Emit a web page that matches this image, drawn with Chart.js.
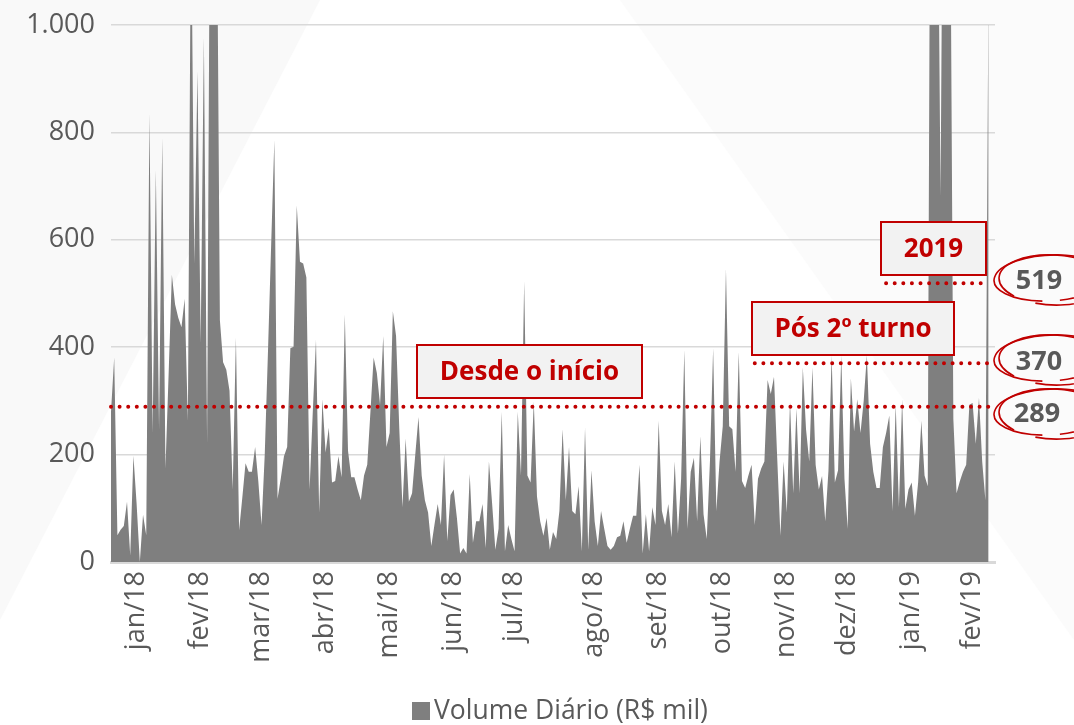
<!DOCTYPE html>
<html>
<head>
<meta charset="utf-8">
<script src="https://cdn.jsdelivr.net/npm/chart.js@4.4.1/dist/chart.umd.min.js"></script>
<style>
html,body{margin:0;padding:0;background:#ffffff;}
#wrap{width:1074px;height:725px;position:relative;overflow:hidden;}
canvas{display:block;}
</style>
</head>
<body>
<div id="wrap"><canvas id="c" width="1074" height="725"></canvas></div>
<script>
// ---------- DATA ----------
const volume = [
  280, 381, 50, 60, 67, 112, 12, 198, 108, 0,
  88, 50, 836, 240, 730, 247, 790, 174, 352, 535,
  480, 455, 437, 490, 263, 1250, 556, 914, 408, 977,
  220, 1400, 1600, 1300, 450, 372, 358, 319, 135, 418,
  59, 120, 184, 168, 168, 214, 150, 69, 200, 390,
  590, 786, 118, 155, 197, 214,
  398, 401, 664, 559, 556, 530, 135, 280, 414, 92,
  303, 204, 250, 148, 151, 197, 158, 461, 207, 158,
  158, 135, 115, 161, 181, 280, 381, 352, 293, 421,
  214, 240, 467, 421, 250, 102, 230, 112, 128, 200,
  270, 161, 115, 92, 30, 70, 108, 69, 200, 39,
  125, 135, 82, 16, 26,
  16, 164, 36, 76, 76, 108, 26, 187, 108, 23,
  62, 280, 20, 69, 43, 20, 280, 161, 523, 161,
  148, 299, 122, 76, 49, 82, 23, 56, 43, 95,
  247, 115, 214, 95, 89, 141, 20, 250, 23, 171,
  76, 30, 95, 62, 30, 23, 30, 46, 49, 76,
  36, 62, 86, 86, 181,
  16, 89, 20, 102, 69, 263, 95, 69, 108, 46,
  187, 53, 155, 395, 62, 168, 194, 76, 234, 89,
  43, 187, 398, 95, 187, 253, 546, 253, 247, 168,
  391, 151, 138, 161, 181, 69, 155, 174, 187, 339,
  313, 345, 194, 49, 187, 92, 299, 128, 286, 128,
  362, 247, 187, 362, 181, 135,
  160, 76, 170, 385, 148, 171, 385, 155, 62, 342,
  243, 303, 240, 300, 385, 220, 168, 138, 138, 214,
  240, 273, 95, 293, 102, 303, 99, 135, 148, 86,
  148, 263, 161, 141, 1700, 1500, 1400, 680, 1600, 1700,
  1300, 266, 128, 150, 168, 181, 293, 296, 220, 306,
  187, 115, 1100
];
// axis slots: one per trading day, plus two empty slots after the last day
const days = Array.from({length: volume.length + 2}, (_, i) => String(i + 1));

const tickIndex  = [8, 28, 47, 67, 87, 107, 126, 151, 171, 191, 211, 230, 250, 269];
const tickLabels = ['jan/18','fev/18','mar/18','abr/18','mai/18','jun/18','jul/18',
                    'ago/18','set/18','out/18','nov/18','dez/18','jan/19','fev/19'];

const yTicks = [0, 200, 400, 600, 800, 1000];

const refLevels = [289, 370, 519];
const refStart  = [0, 201, 242];
const refEnd    = [274, 274, 272];
const refTexts  = ['Desde o início', 'Pós 2º turno', '2019'];
const refBubble = ['289', '370', '519'];

const seriesName = 'Volume Diário (R$ mil)';

// ---------- STYLE ----------
const FONT = "'Open Sans', 'DejaVu Sans', sans-serif";
const GRAY_TXT = '#595959';
const RED = '#C00000';
const AREA = '#7F7F7F';

const refData = refLevels.map((lvl, k) =>
  volume.map((_, i) => (i >= refStart[k] && i <= refEnd[k]) ? lvl : null));

const fmt = v => String(v).replace(/\B(?=(\d{3})+(?!\d))/g, '.');

// annotation layout (pixels)
const boxLayout = [
  {x: 417, y: 345, w: 225, h: 53},
  {x: 752, y: 302, w: 202, h: 53},
  {x: 881, y: 222, w: 105, h: 53}
];
const bubbleLayout = [
  {tx: 1037, ty: 414, cx: 1050, cy: 412},
  {tx: 1039, ty: 362, cx: 1050, cy: 358},
  {tx: 1039, ty: 281, cx: 1050, cy: 278}
];
const legendLayout = {boxX: 412, boxY: 702, box: 18, textX: 434, textY: 711};

const bgPlugin = {
  id: 'bg',
  beforeDraw(chart) {
    const c = chart.ctx;
    c.save();
    c.fillStyle = '#ffffff';
    c.fillRect(0, 0, chart.width, chart.height);
    c.fillStyle = '#f9f9f9';
    c.beginPath(); c.moveTo(0, 0); c.lineTo(320, 0); c.lineTo(0, 620); c.closePath(); c.fill();
    c.fillStyle = '#fbfbfb';
    c.beginPath(); c.moveTo(620, 0); c.lineTo(1074, 0); c.lineTo(1074, 640); c.closePath(); c.fill();
    c.restore();
  }
};

const annoPlugin = {
  id: 'anno',
  afterDatasetsDraw(chart) {
    const c = chart.ctx;
    c.save();
    refTexts.forEach((t, k) => {
      const b = boxLayout[k];
      c.fillStyle = '#F2F2F2';
      c.fillRect(b.x, b.y, b.w, b.h);
      c.strokeStyle = RED;
      c.lineWidth = 2;
      c.strokeRect(b.x, b.y, b.w, b.h);
      c.fillStyle = RED;
      c.font = "bold 26px " + FONT;
      c.textAlign = 'center';
      c.textBaseline = 'middle';
      c.fillText(t, b.x + b.w / 2, b.y + b.h / 2 + 1);
    });
    c.restore();
  },
  afterDraw(chart) {
    const c = chart.ctx;
    c.save();
    refBubble.forEach((t, k) => {
      const p = bubbleLayout[k];
      c.strokeStyle = RED;
      c.lineWidth = 1.6;
      c.beginPath();
      c.ellipse(p.cx, p.cy, 56, 23, -0.05, Math.PI * 0.55, Math.PI * 2.45);
      c.stroke();
      c.beginPath();
      c.ellipse(p.cx + 3, p.cy + 2, 54, 25, 0.04, Math.PI * 0.75, Math.PI * 2.6);
      c.stroke();
      c.fillStyle = GRAY_TXT;
      c.font = "bold 27px " + FONT;
      c.textAlign = 'center';
      c.textBaseline = 'middle';
      c.fillText(t, p.tx, p.ty);
    });
    // legend (single series)
    const L = legendLayout;
    c.fillStyle = AREA;
    c.fillRect(L.boxX, L.boxY, L.box, L.box);
    c.fillStyle = GRAY_TXT;
    c.font = "26.5px " + FONT;
    c.textAlign = 'left';
    c.textBaseline = 'middle';
    c.fillText(chart.data.datasets[0].label, L.textX, L.textY);
    c.restore();
  }
};

const pad = {left: 0, right: 79, top: 25, bottom: 0};
let xAxisH = 150;
const target = {top: 25, bottom: 562, right: 995};

const datasets = [
  {
    label: seriesName,
    data: volume,
    backgroundColor: AREA,
    borderColor: AREA,
    borderWidth: 0,
    fill: 'origin',
    pointRadius: 0,
    tension: 0,
    order: 2
  }
].concat(refLevels.map((lvl, k) => ({
  label: 'ref' + k,
  data: refData[k],
  borderColor: RED,
  borderWidth: 4,
  borderDash: [0, 8.6],
  borderCapStyle: 'round',
  pointRadius: 0,
  fill: false,
  spanGaps: false,
  order: 1
})));

const chart = new Chart(document.getElementById('c'), {
  type: 'line',
  data: {labels: days, datasets},
  options: {
    responsive: false,
    animation: false,
    devicePixelRatio: 1,
    layout: {padding: Object.assign({}, pad), autoPadding: false},
    plugins: {
      legend: {display: false},
      tooltip: {enabled: false}
    },
    scales: {
      x: {
        type: 'category',
        grid: {display: false, drawTicks: false},
        border: {display: true, color: '#D9D9D9', width: 3},
        ticks: {
          autoSkip: false,
          maxRotation: 90,
          minRotation: 90,
          padding: 9,
          color: GRAY_TXT,
          font: {family: FONT, size: 27},
          callback: function(value, index) {
            const k = tickIndex.indexOf(index);
            return k >= 0 ? tickLabels[k] : '';
          }
        },
        afterFit: s => { s.height = xAxisH; s.paddingLeft = 0; s.paddingRight = 0; }
      },
      y: {
        min: 0,
        max: 1000,
        afterBuildTicks: s => { s.ticks = yTicks.map(v => ({value: v})); },
        grid: {color: '#D9D9D9', lineWidth: 1.5, drawTicks: false},
        border: {display: false},
        ticks: {
          padding: 16,
          color: GRAY_TXT,
          font: {family: FONT, size: 27},
          callback: v => fmt(v)
        },
        afterFit: s => { s.width = 111; s.paddingTop = 0; s.paddingBottom = 0; }
      }
    }
  },
  plugins: [bgPlugin, annoPlugin]
});

for (let k = 0; k < 5; k++) {
  const a = chart.chartArea;
  const dt = target.top - a.top, db = target.bottom - a.bottom, dr = target.right - a.right;
  if (Math.abs(dt) < 0.5 && Math.abs(db) < 0.5 && Math.abs(dr) < 0.5) break;
  pad.top += dt; xAxisH -= db; pad.right -= dr;
  chart.options.layout.padding = Object.assign({}, pad);
  chart.update('none');
}
</script>
</body>
</html>
